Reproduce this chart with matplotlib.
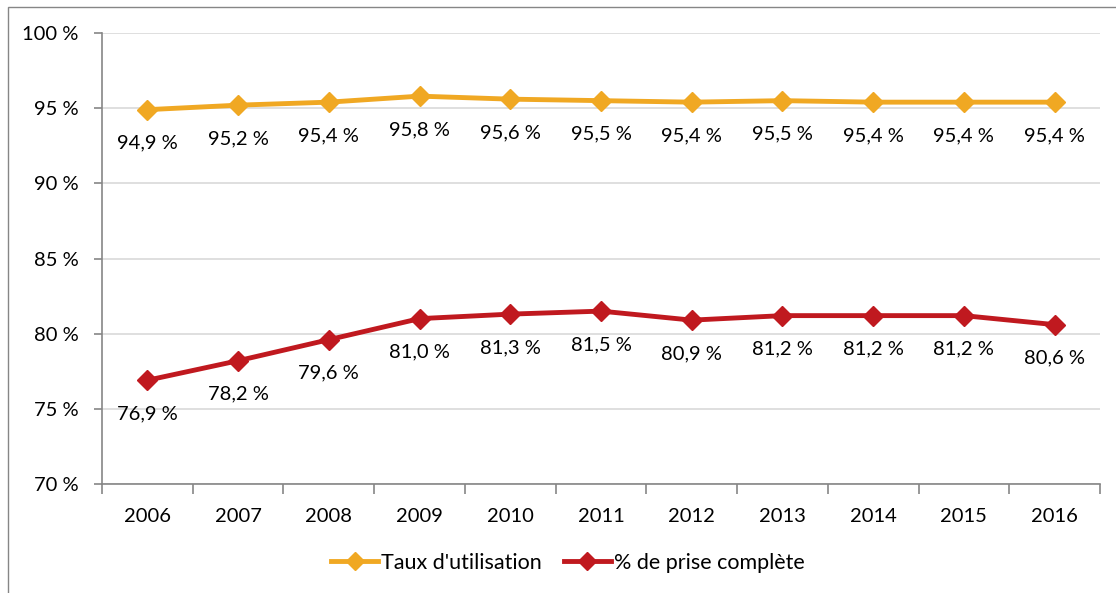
import matplotlib

matplotlib.use("Agg")
import matplotlib.pyplot as plt
import numpy as np
from matplotlib.patches import Rectangle
from matplotlib.lines import Line2D

years = ["2006", "2007", "2008", "2009", "2010", "2011", "2012", "2013", "2014", "2015", "2016"]
taux = [94.9, 95.2, 95.4, 95.8, 95.6, 95.5, 95.4, 95.5, 95.4, 95.4, 95.4]
prise = [76.9, 78.2, 79.6, 81.0, 81.3, 81.5, 80.9, 81.2, 81.2, 81.2, 80.6]
yticks = [70, 75, 80, 85, 90, 95, 100]

ORANGE = "#F0A823"
RED = "#C0191F"
GRAY = "#868686"
FS = 14.5

plt.rcParams["font.family"] = ["Lato", "DejaVu Sans"]

W, H = 1116, 593
fig = plt.figure(figsize=(W / 100, H / 100), dpi=100)
ax = fig.add_axes([102 / W, 1 - 484 / H, (1100 - 102) / W, (484 - 33) / H])

# cadre exterieur du graphique
fig.patches.append(Rectangle((8 / W, -0.05), 1.2, 1 - 7 / H + 0.05, transform=fig.transFigure,
                             fill=False, edgecolor=GRAY, linewidth=1.0))

x = np.arange(len(years))
ax.plot(x, taux, color=ORANGE, lw=3.5, marker="D", ms=10.5, zorder=3)
ax.plot(x, prise, color=RED, lw=3.5, marker="D", ms=10.5, zorder=3)

for serie in (taux, prise):
    for xi, v in zip(x, serie):
        ax.annotate(f"{v:.1f} %".replace(".", ","), (xi, v), xytext=(0, -24), textcoords="offset points",
                    ha="center", va="center", fontsize=FS, color="black")

ax.set_xlim(-0.5, len(years) - 0.5)
ax.set_ylim(70, 100)
ax.set_yticks(yticks)
ax.set_yticklabels([f"{t} %" for t in yticks], fontsize=FS)
ax.yaxis.grid(True, color="#D9D9D9", lw=1.2)
ax.set_axisbelow(True)

ax.set_xticks(np.arange(-0.5, len(years), 1.0))
ax.set_xticklabels([])
ax.set_xticks(x, minor=True)
ax.set_xticklabels(years, minor=True, fontsize=FS)
ax.tick_params(axis="x", which="major", length=7, color=GRAY, width=1.2)
ax.tick_params(axis="x", which="minor", length=0, pad=17)
ax.tick_params(axis="y", length=6, color=GRAY, width=1.2, pad=11)

for side in ["top", "right"]:
    ax.spines[side].set_visible(False)
for side in ["left", "bottom"]:
    ax.spines[side].set_color(GRAY)
    ax.spines[side].set_linewidth(1.2)

handles = [
    Line2D([], [], color=ORANGE, lw=3.5, marker="D", ms=9),
    Line2D([], [], color=RED, lw=3.5, marker="D", ms=9),
]
fig.legend(handles, ["Taux d'utilisation", "% de prise complète"], loc="center",
           bbox_to_anchor=(568 / W, 1 - 563 / H), ncol=2, frameon=False, fontsize=15.5,
           handlelength=2.2, handletextpad=0.15, columnspacing=1.0)

fig.savefig("out.png", dpi=100)
